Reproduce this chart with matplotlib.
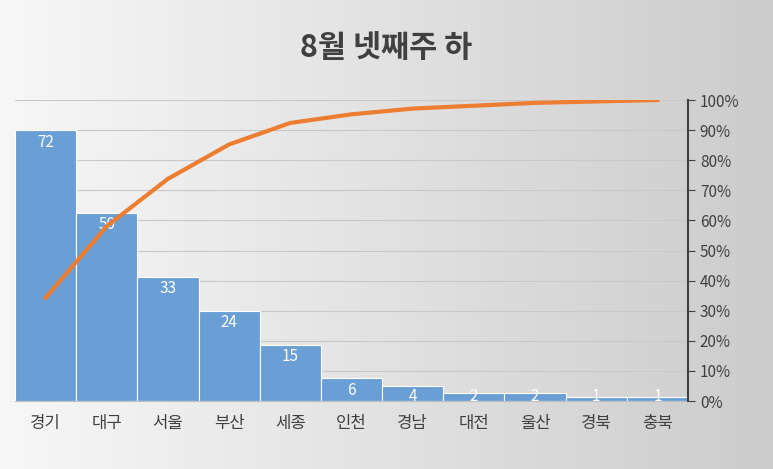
import numpy as np
import matplotlib.pyplot as plt

categories = ["경기", "대구", "서울", "부산", "세종", "인천", "경남", "대전", "울산", "경북", "충북"]
counts = [72, 50, 33, 24, 15, 6, 4, 2, 2, 1, 1]
pct_ticks = [0, 10, 20, 30, 40, 50, 60, 70, 80, 90, 100]

plt.rcParams["font.family"] = ["Noto Sans CJK KR", "Noto Sans CJK JP", "Noto Sans CJK SC", "DejaVu Sans"]

W, H = 773, 469
fig = plt.figure(figsize=(W / 100, H / 100), dpi=100)

# gray gradient background
bg = fig.add_axes([0, 0, 1, 1], zorder=-10)
grad = np.linspace(0.97, 0.80, 256).reshape(1, -1)
bg.imshow(np.dstack([grad] * 3), aspect="auto", extent=[0, 1, 0, 1])
bg.axis("off")

ax = fig.add_axes([15 / W, 1 - 401 / H, (688 - 15) / W, (401 - 100) / H])
ax.patch.set_alpha(0)
x = np.arange(len(categories))
for t in pct_ticks[1:]:
    ax.axhline(t * 0.8, color="#C8C8C8", lw=0.8, zorder=0)
bars = ax.bar(x, counts, width=1.0, color="#6A9FD6", edgecolor="white", linewidth=0.8, zorder=2)
ax.set_xlim(-0.5, len(categories) - 0.5)
ax.set_ylim(0, 80)
ax.set_yticks([])
for s in ["left", "top", "right"]:
    ax.spines[s].set_visible(False)
ax.spines["bottom"].set_color("#BFBFBF")
ax.set_xticks(x)
ax.set_xticklabels(categories, fontsize=12, color="#404040")
ax.tick_params(axis="x", length=0, pad=10)
for b, v in zip(bars, counts):
    ax.text(b.get_x() + b.get_width() / 2, max(v - 3.2, 1.1), str(v), ha="center", va="center",
            color="white", fontsize=11, zorder=3)

ax2 = ax.twinx()
cum = np.cumsum(counts) / sum(counts) * 100
ax2.plot(x, cum, color="#ED7D31", lw=3, zorder=4)
ax2.set_ylim(0, 100)
ax2.set_yticks(pct_ticks)
ax2.set_yticklabels([f"{t}%" for t in pct_ticks], fontsize=11, color="#404040")
for s in ["left", "top", "bottom"]:
    ax2.spines[s].set_visible(False)
ax2.spines["right"].set_color("#404040")
ax2.spines["right"].set_linewidth(1.5)
ax2.tick_params(axis="y", length=5, color="#404040")
ax2.patch.set_alpha(0)

fig.text(0.5, 1 - 48 / H, "8월 넷째주 하", ha="center", va="center",
         fontsize=22, fontweight="bold", color="#404040")

fig.savefig("out.png", dpi=100)
